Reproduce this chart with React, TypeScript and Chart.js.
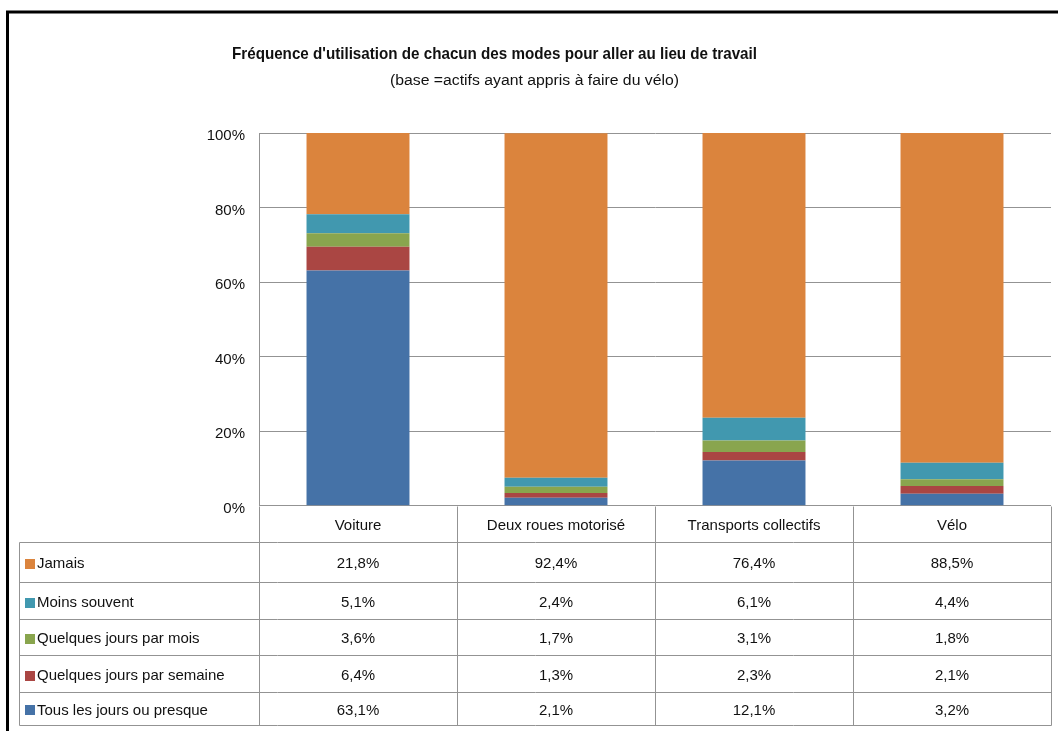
import React, { useEffect, useRef } from "react";
import { Chart, registerables } from "chart.js";

Chart.register(...registerables);

// ---- Data ----
const categories = ["Voiture", "Deux roues motorisé", "Transports collectifs", "Vélo"];
const tousLesJours = [63.1, 2.1, 12.1, 3.2];
const parSemaine = [6.4, 1.3, 2.3, 2.1];
const parMois = [3.6, 1.7, 3.1, 1.8];
const moinsSouvent = [5.1, 2.4, 6.1, 4.4];
const jamais = [21.8, 92.4, 76.4, 88.5];
const yTicks = [0, 20, 40, 60, 80, 100];

const titleText = "Fréquence d'utilisation de chacun des modes pour aller au lieu de travail";
const subtitleText = "(base =actifs ayant appris à faire du vélo)";

// stacking order: bottom to top
const seriesNames = [
  "Tous les jours ou presque",
  "Quelques jours par semaine",
  "Quelques jours par mois",
  "Moins souvent",
  "Jamais",
];
const seriesValues = [tousLesJours, parSemaine, parMois, moinsSouvent, jamais];
const seriesColors = ["#4572A7", "#AA4643", "#89A54E", "#4198AF", "#DB843D"];

// table row heights (top to bottom), layout only
const rowHeights = [40.3, 36.4, 36.6, 36.4, 33.5];

const FONT = "'Liberation Sans', Arial, sans-serif";
const NARROW = "'Liberation Sans Narrow', 'Liberation Sans', Arial, sans-serif";
const TEXT = "#111111";
const LINE = "#939393";

const fmt = (v: number) => v.toFixed(1).replace(".", ",") + "%";

function fitText(ctx: CanvasRenderingContext2D, text: string, cx: number, cy: number, width: number) {
  const m = ctx.measureText(text).width;
  ctx.save();
  ctx.translate(cx, cy);
  ctx.scale(width / m, 1);
  ctx.textAlign = "center";
  ctx.textBaseline = "middle";
  ctx.fillText(text, 0, 0);
  ctx.restore();
}

const decorPlugin = {
  id: "decor",
  beforeDraw(chart: any) {
    const ctx: CanvasRenderingContext2D = chart.ctx;
    ctx.save();
    ctx.fillStyle = "#ffffff";
    ctx.fillRect(0, 0, chart.width, chart.height);
    // outer frame
    ctx.strokeStyle = "#000000";
    ctx.lineWidth = 3;
    ctx.beginPath();
    ctx.moveTo(7.5, chart.height + 5);
    ctx.lineTo(7.5, 12);
    ctx.lineTo(chart.width + 5, 12);
    ctx.stroke();
    // titles
    ctx.fillStyle = TEXT;
    ctx.font = "bold 17px " + NARROW;
    fitText(ctx, titleText, 494.5, 54, 525);
    ctx.font = "14px " + NARROW;
    fitText(ctx, subtitleText, 534.5, 81.5, 289);
    ctx.restore();
  },
  afterDraw(chart: any) {
    const ctx: CanvasRenderingContext2D = chart.ctx;
    const area = chart.chartArea;
    const xs = chart.scales.x;
    const n = categories.length;
    const colW = area.width / n;
    const headerTop = xs.top;
    const tableTop = xs.bottom;
    const rows = seriesNames.length;
    const rowTops: number[] = [tableTop];
    for (let r = 0; r < rows; r++) rowTops.push(rowTops[r] + rowHeights[r]);
    const tableBottom = rowTops[rows];
    const legendLeft = 19;
    const px = (v: number) => Math.round(v) + 0.5;

    ctx.save();
    ctx.strokeStyle = LINE;
    ctx.lineWidth = 1;
    ctx.beginPath();
    // column separators (header + body)
    for (let i = 0; i <= n; i++) {
      const xb = px(xs.getPixelForValue(0) - colW / 2 + i * colW);
      ctx.moveTo(xb, px(headerTop));
      ctx.lineTo(xb, px(tableBottom));
    }
    // legend column left border
    ctx.moveTo(px(legendLeft), px(tableTop));
    ctx.lineTo(px(legendLeft), px(tableBottom));
    // horizontal lines
    for (let r = 0; r <= rows; r++) {
      const yb = px(rowTops[r]);
      ctx.moveTo(px(legendLeft), yb);
      ctx.lineTo(px(area.right), yb);
    }
    ctx.stroke();

    // rows: top-to-bottom is reverse of stacking order
    ctx.font = "15px " + FONT;
    ctx.textBaseline = "middle";
    for (let r = 0; r < rows; r++) {
      const s = rows - 1 - r;
      const cy = rowTops[r] + rowHeights[r] / 2 + 2;
      ctx.fillStyle = seriesColors[s];
      ctx.fillRect(25, Math.round(cy - 5), 10, 10);
      ctx.fillStyle = TEXT;
      ctx.textAlign = "left";
      ctx.fillText(seriesNames[s], 37, cy);
      ctx.textAlign = "center";
      for (let i = 0; i < n; i++) {
        ctx.fillText(fmt(seriesValues[s][i]), xs.getPixelForValue(i), cy);
      }
    }
    ctx.restore();
  },
};

export default function App() {
  const ref = useRef<HTMLCanvasElement | null>(null);
  useEffect(() => {
    if (!ref.current) return;
    const chart = new Chart(ref.current, {
      type: "bar",
      data: {
        labels: categories,
        datasets: seriesNames.map((name, i) => ({
          label: name,
          data: seriesValues[i],
          backgroundColor: seriesColors[i],
          borderWidth: 0,
          categoryPercentage: 1,
          barPercentage: 0.52,
        })),
      },
      options: {
        responsive: false,
        animation: false,
        devicePixelRatio: 1,
        layout: { padding: { left: 0, right: 7, top: 133, bottom: 189 } },
        plugins: {
          legend: { display: false },
          tooltip: { enabled: false },
          title: { display: false },
        },
        scales: {
          x: {
            stacked: true,
            grid: { display: false },
            border: { display: false },
            ticks: {
              font: { family: FONT, size: 15 },
              color: TEXT,
              padding: 3.5,
              maxRotation: 0,
              autoSkip: false,
            },
            afterFit: (s: any) => {
              s.height = 36.3;
            },
          },
          y: {
            stacked: true,
            min: 0,
            max: 100,
            afterBuildTicks: (s: any) => {
              s.ticks = yTicks.map((v) => ({ value: v }));
            },
            ticks: {
              font: { family: FONT, size: 15 },
              color: TEXT,
              padding: 14,
              labelOffset: 3,
              callback: (v: any) => v + "%",
            },
            grid: { color: LINE, drawTicks: false },
            border: { display: true, color: LINE },
            afterFit: (s: any) => {
              s.width = 259;
            },
          },
        },
      },
      plugins: [decorPlugin],
    } as any);
    return () => chart.destroy();
  }, []);
  return (
    <div style={{ position: "fixed", left: 0, top: 0, width: 1058, height: 731 }}>
      <canvas ref={ref} width={1058} height={731} style={{ width: 1058, height: 731, display: "block" }} />
    </div>
  );
}
